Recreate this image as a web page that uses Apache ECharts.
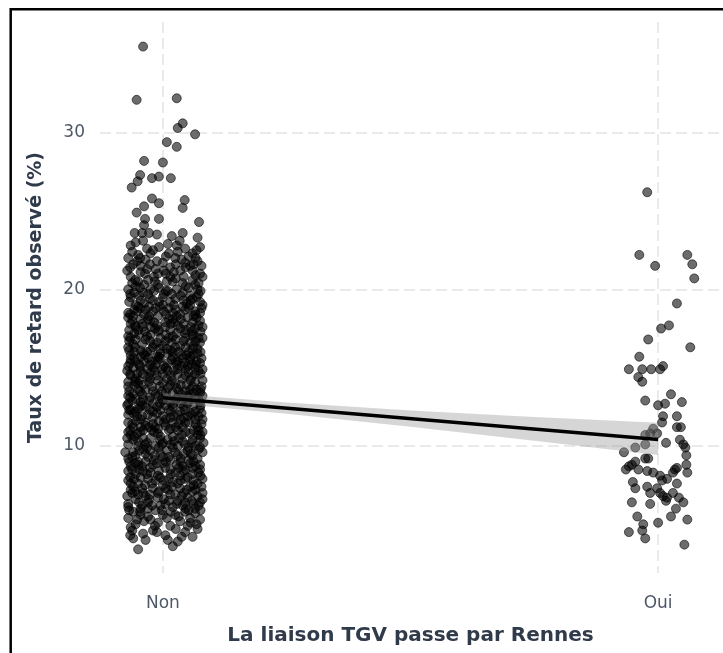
<!DOCTYPE html>
<html>
<head>
<meta charset="utf-8">
<script src="https://cdn.jsdelivr.net/npm/echarts@6/dist/echarts.min.js"></script>
<style>html,body{margin:0;padding:0;background:#fff;}#c{width:723px;height:653px;}</style>
</head>
<body>
<div id="c"></div>
<script>
const categories = ['Non', 'Oui'];
const categoryPos = [0, 1];
const yTicks = [10, 20, 30];

// [jitter offset, delay %] for "Non"
const nonPoints = [
 [-0.040,35.5],[-0.053,32.1],[0.028,32.2],[0.040,30.6],[0.030,30.3],[0.065,29.9],[0.008,29.4],[0.028,29.1],
 [-0.038,28.2],[0.000,28.1],[-0.046,27.3],[-0.051,26.9],[-0.022,27.1],[-0.008,27.2],[0.016,27.1],[-0.063,26.5],
 [-0.022,25.8],[-0.038,25.3],[0.044,25.7],[0.040,25.2],[-0.008,25.5],[-0.053,24.9],[-0.036,24.5],[-0.008,24.5],
 [0.073,24.3],[-0.038,24.1],[-0.057,23.6],[-0.042,23.6],[-0.028,23.6],[-0.012,23.5],[0.018,23.4],[0.040,23.6],[0.034,23.1],
 [-0.05,3.4],[-0.035,4.0],[0.02,3.6],[0.03,3.9],[0.06,4.2],[0.005,4.3],[-0.04,4.4],[-0.065,4.8],[-0.02,4.6],[0.045,4.5],
 [0.07,4.7],[-0.055,5.0],[0.015,4.9],[-0.01,5.1],[0.035,5.2],[0.075,5.3],[-0.07,5.4],[-0.03,5.5],[0.055,5.4],[0.0,5.6],
 [-0.06,5.8],[-0.045,6.0],[-0.015,5.9],[0.02,6.1],[0.045,5.8],[0.065,6.0],[-0.07,6.3],[-0.03,6.4],[0.005,6.3],[0.03,6.5],
 [0.075,6.4],[-0.055,6.6],[-0.01,6.7],[0.05,6.7],[0.015,6.9],[-0.04,7.0],[0.06,7.1],[-0.065,7.2],[0.08,7.0],[-0.02,7.3],
 [0.035,7.3],[0.0,7.5],[-0.05,7.6],[0.02,7.7],[0.07,7.6],[-0.07,7.8],[-0.03,7.9],[0.045,7.9],[-0.01,8.1],[0.06,8.2],
 [-0.055,8.2],[0.025,8.3],[-0.04,8.4],[0.075,8.5],[0.005,8.6],[-0.065,8.7],[0.04,8.7],[-0.02,8.8],
 [0.055,8.9],[-0.05,9.0],[0.015,9.1],[-0.07,9.2],[0.07,9.2],[-0.03,9.3],[0.03,9.4],[-0.005,9.5],[0.08,9.6],[-0.06,9.6],
 [0.05,9.7],[-0.04,9.8],[0.02,9.9],[-0.015,10.0],[0.065,10.0],[-0.07,10.1],[0.0,10.2],
 [0.04,10.3],[-0.05,10.3],[-0.025,10.5],[0.075,10.5],[0.02,10.6],[-0.065,10.7],[0.055,10.8],[-0.01,10.8],[-0.04,11.0],
 [0.03,11.0],[0.07,11.2],[-0.06,11.2],[0.005,11.3],[-0.02,11.4],[0.045,11.5],[-0.07,11.5],
 [0.08,11.7],[-0.045,11.7],[0.015,11.8],[-0.03,12.0],[0.06,12.0],[-0.06,12.1],[0.035,12.2],[-0.005,12.3],[0.075,12.4],
 [-0.05,12.4],[0.02,12.5],[-0.07,12.7],[-0.02,12.7],[0.05,12.7],[0.0,12.9],[0.065,13.0],[-0.04,13.0],
 [0.03,13.1],[-0.06,13.3],[-0.015,13.3],[0.075,13.4],[0.045,13.5],[-0.035,13.6],[0.01,13.7],[-0.07,13.8],[0.06,13.8],
 [-0.05,14.0],[0.025,14.0],[-0.01,14.2],[0.08,14.2],[0.04,14.3],[-0.03,14.4],[-0.065,14.5],
 [0.0,14.6],[0.065,14.6],[-0.045,14.8],[0.03,14.9],[-0.02,15.0],[0.05,15.1],[-0.07,15.1],[0.075,15.3],[0.01,15.3],
 [-0.055,15.4],[-0.03,15.6],[0.04,15.6],[0.06,15.8],[-0.065,15.8],[-0.005,15.9],[0.02,16.0],
 [-0.045,16.1],[0.07,16.2],[-0.02,16.3],[0.035,16.4],[-0.06,16.5],[0.055,16.6],[0.005,16.7],[-0.035,16.8],[0.08,16.9],
 [-0.07,17.0],[0.02,17.0],[0.045,17.2],[-0.01,17.3],[-0.05,17.4],[0.065,17.5],
 [-0.025,17.6],[0.03,17.7],[-0.065,17.8],[0.005,17.9],[0.075,18.0],[-0.045,18.1],[0.05,18.2],[-0.01,18.3],[0.02,18.5],
 [-0.07,18.5],[0.065,18.6],[-0.035,18.7],[0.04,18.9],[-0.055,19.0],[0.0,19.0],
 [0.075,19.2],[-0.02,19.3],[0.025,19.4],[-0.065,19.5],[0.055,19.6],[-0.04,19.8],[0.01,19.9],[0.07,20.0],[-0.055,20.2],
 [-0.01,20.3],[0.04,20.4],[-0.03,20.6],[0.06,20.6],
 [-0.065,20.8],[0.015,20.8],[0.075,21.0],[-0.045,21.1],[0.035,21.2],[-0.015,21.3],[0.055,21.5],[-0.06,21.6],[0.0,21.7],
 [0.07,21.8],[-0.035,21.9],[0.025,22.0],
 [-0.05,22.2],[0.06,22.3],[-0.02,22.5],[0.045,22.6],[-0.065,22.8],[0.01,22.9],[0.075,22.7],[-0.04,23.1],
 [-0.06,4.1],[0.01,4.0],[0.05,4.9],[-0.025,5.3],[0.025,5.6],[-0.045,5.6],[0.065,5.7],[-0.07,6.1],[-0.005,6.2],[0.04,6.2],
 [0.08,6.6],[-0.035,6.8],[0.025,6.9],[-0.06,7.4],[0.055,7.4],[0.01,7.2],[-0.015,7.8],[0.08,7.9],[-0.045,8.0],[0.035,8.1],
 [-0.07,8.4],[0.015,8.5],[0.06,8.6],[-0.035,9.0],[0.035,9.0],[-0.055,9.4],[0.0,9.3],[0.06,9.4],[-0.025,9.7],[0.075,9.9],
 [-0.05,10.0],[0.03,10.0],[0.01,10.4],[-0.04,10.5],[0.06,10.4],[-0.07,10.9],[0.08,10.9],[-0.01,11.1],[0.04,11.2],[-0.035,11.3],
 [0.02,11.5],[-0.055,11.6],[0.065,11.7],[0.0,11.9],[-0.02,12.2],[0.045,12.3],[-0.065,12.3],[0.075,12.8],[0.015,12.8],[-0.045,12.8],
 [-0.01,13.2],[0.05,13.2],[-0.07,13.2],[0.02,13.4],[-0.04,13.9],[0.065,14.1],[0.0,14.0],[-0.055,14.3],[0.03,14.6],[-0.025,14.7],
 [0.08,14.9],[-0.06,15.0],[0.045,15.3],[-0.01,15.5],[0.02,15.7],[-0.04,15.9],[0.07,15.9],[-0.07,16.3],[0.0,16.4],[0.045,16.9],
 [-0.025,17.1],[0.06,17.0],[-0.055,17.6],[0.015,17.4],[0.08,17.6],[-0.03,18.1],[0.035,18.4],[-0.06,18.3],[0.075,18.5],[-0.015,18.8],
 [0.055,19.0],[-0.045,19.3],[0.0,19.5],[0.04,19.8],[-0.07,20.0],[0.065,20.3],[-0.025,20.0],[0.02,20.5],[-0.05,20.5],[0.08,20.8],
 [-0.01,21.0],[0.045,21.7],[-0.045,21.5],[0.015,21.4],[-0.07,22.0],[0.06,21.2],[-0.025,22.3],[0.03,22.4],[-0.055,23.0],[0.07,23.3],
 [-0.03,6.0],[0.045,6.4],[-0.05,6.9],[0.07,6.8],[-0.01,7.0],[0.03,7.6],[-0.065,7.6],[0.05,8.0],[-0.025,8.3],[0.0,8.9],
 [-0.05,8.8],[0.075,8.8],[0.025,9.6],[-0.035,9.5],[0.045,10.1],[-0.06,10.4],[-0.005,10.6],[0.07,10.7],[0.015,11.1],[-0.045,11.2],
 [0.05,11.9],[-0.02,11.8],[-0.07,12.0],[0.03,12.0],[0.065,12.2],[-0.035,12.5],[0.005,12.6],[-0.055,13.0],[0.04,12.9],[0.08,13.2],
 [-0.02,13.5],[0.055,13.6],[-0.05,13.6],[0.015,13.9],[-0.07,14.1],[0.045,14.5],[-0.04,14.6],[0.01,14.8],[0.065,15.0],[-0.015,15.2],
 [-0.065,15.5],[0.03,15.4],[0.055,15.5],[-0.045,15.7],[0.01,15.9],[-0.025,16.1],[0.06,16.2],[0.025,16.3],[-0.055,16.8],[0.075,16.6],
 [-0.005,16.9],[0.035,17.5],[-0.04,17.6],[0.005,17.6],[0.06,17.9],[-0.07,18.2],[0.02,18.1],[-0.02,18.6],[0.045,18.7],[-0.05,18.9],
 [0.08,19.0],[0.015,19.2],[-0.03,19.7],[0.06,19.4],
 [-0.062,4.6],[0.038,4.2],[-0.012,4.5],[0.068,5.0],[-0.038,5.2],[0.008,5.4],[0.052,5.9],[-0.068,5.9],[-0.022,6.2],[0.028,6.3],
 [0.072,6.2],[-0.048,6.4],[0.002,6.6],[0.058,6.5],[-0.028,6.6],[-0.072,6.8],[0.038,6.8],[-0.008,7.1],[0.048,7.2],[-0.042,7.3],
 [0.078,7.4],[0.018,7.4],[-0.058,7.9],[0.012,7.9],[0.062,7.8],[-0.032,8.2],[0.042,8.4],[-0.062,8.5],[-0.008,8.4],[0.072,8.3],
 [0.028,8.8],[-0.042,8.7],[0.052,9.1],[-0.018,9.1],[-0.068,9.0],[0.008,9.7],[0.042,9.5],[-0.048,9.7],[0.072,9.8],[-0.008,9.9],
 [0.058,10.2],[-0.032,10.2],[0.022,10.3],[-0.072,10.5],[0.082,10.2],[0.038,10.7],[-0.018,10.9],[-0.052,10.8],[0.062,11.0],[0.012,11.0],
 [-0.028,11.2],[0.078,11.4],[-0.062,11.4],[0.032,11.4],[-0.008,11.6],[0.052,11.5],[-0.042,11.9],[0.022,11.9],[0.072,11.9],[-0.068,12.3],
 [-0.012,12.5],[0.042,12.5],[0.062,12.6],[-0.028,12.9],[0.022,12.7],[-0.062,12.9],[0.008,13.1],[0.072,13.0],[-0.042,13.3],[0.038,13.3],
 [-0.002,13.5],[0.062,13.4],[-0.068,13.5],[0.028,13.7],[-0.022,13.8],[0.078,13.8],[0.048,13.9],[-0.048,14.2],[0.008,14.3],[-0.012,14.5],
 [0.058,14.4],[-0.072,14.8],[0.022,14.8],[-0.032,14.9],[0.072,14.8],[0.038,15.1],[-0.048,15.2],[0.002,15.1],[0.058,15.2],[-0.022,15.4],
 [0.078,15.6],[-0.058,15.6],[0.018,15.5],[0.048,15.8],[-0.012,15.7],[-0.032,16.0],[0.032,16.0],[-0.068,16.1],[0.062,16.4],[0.008,16.2],
 [-0.042,16.5],[0.018,16.6],[-0.012,16.6],[0.042,16.7],[-0.068,16.7],[0.072,16.9],[-0.032,17.0],[0.028,17.2],[0.058,17.3],[-0.058,17.2],
 [-0.008,17.4],[0.072,17.7],[-0.042,17.8],[0.042,17.8],[-0.018,17.9],[0.012,18.1],[-0.062,18.0],[0.062,18.3],[-0.038,18.4],[0.028,18.3],
 [0.002,18.6],[-0.052,18.6],[0.052,18.8],[-0.028,18.9],[0.078,18.8],[0.022,19.0],[-0.068,19.2],[-0.008,19.2],[0.042,19.3],[0.068,19.5],
 [-0.048,19.6],[0.002,19.7],[-0.018,19.9],[0.028,20.0],[0.052,20.1],[-0.062,20.4],[-0.038,20.3],[0.008,20.5],[0.072,20.4],[-0.018,20.8],
 [0.042,20.8],[-0.072,21.2],[0.022,21.1],[-0.032,21.3],[0.062,21.6],[0.002,21.2],[-0.052,21.8],[0.078,21.5],[-0.012,21.8],[0.038,21.9],
 [-0.062,22.4],[0.012,22.3],[0.052,22.1],[-0.032,22.6],[0.068,22.5],[-0.008,22.7],[0.028,22.8],
 [-0.052,5.3],[0.032,5.5],[-0.002,5.9],[0.062,6.3],[-0.042,6.2],[0.012,6.5],[-0.062,7.0],[0.042,7.0],[-0.022,7.6],[0.062,7.5],
 [0.002,7.8],[-0.048,8.5],[0.032,8.6],[-0.012,8.9],[0.062,9.0],[-0.062,9.3],[0.012,9.3],[-0.032,9.9],[0.052,9.9],[-0.002,10.1],
 [-0.058,10.6],[0.032,10.5],[0.072,11.0],[-0.022,11.0],[0.002,11.5],[-0.052,11.9],[0.042,11.8],[-0.012,12.1],[0.078,12.1],[0.012,12.3],
 [-0.042,12.6],[0.052,12.9],[-0.072,12.6],[-0.002,13.0],[0.032,13.5],[-0.058,13.9],[0.068,13.6],[-0.028,14.1],[0.018,14.2],[0.052,14.7],
 [-0.052,14.6],[-0.002,14.9],[0.028,15.2],[-0.038,15.4],[0.068,15.4],[-0.008,15.7],[0.038,15.8],[-0.058,16.0],[0.052,16.0],[-0.018,16.5],
 [0.012,16.9],[-0.048,17.1],[0.062,17.1],[-0.012,17.7],[0.022,17.9],[-0.068,17.4],[0.068,18.2],[-0.028,18.3],[0.012,18.8],[-0.058,18.7],
 [0.048,19.1],[-0.038,19.1],[0.018,19.7],[0.072,19.7],[-0.058,19.8],[-0.008,20.1],
 [-0.066,4.3],[0.026,4.7],[-0.016,4.9],[0.056,5.1],[-0.046,5.8],[0.016,5.8],[0.076,5.9],[-0.026,6.9],[0.046,6.0],[-0.056,7.1],
 [0.006,7.3],[0.066,7.2],[-0.036,7.5],[0.036,7.8],[-0.006,8.0],[0.076,8.1],[-0.066,8.0],[0.016,8.2],[-0.026,8.6],[0.046,8.5],
 [-0.056,8.9],[0.006,9.0],[0.066,8.7],[-0.016,9.4],[0.036,9.2],[-0.076,9.6],[0.056,9.5],[-0.036,10.1],[0.016,10.1],[0.076,10.7],
 [-0.006,10.4],[-0.046,10.9],[0.046,10.9],[-0.016,11.2],[0.026,11.2],[-0.066,11.0],[0.066,11.4],[-0.036,11.5],[0.006,11.7],[-0.056,12.2],
 [0.036,11.7],[0.056,12.1],[-0.026,12.3],[0.016,12.2],[0.076,12.6],[-0.006,12.7],[-0.046,12.5],[0.036,12.7],[-0.066,13.1],[0.026,13.0],
 [-0.026,13.1],[0.056,13.3],[0.006,13.4],[-0.046,13.5],[0.076,13.6],[-0.006,13.8],[0.036,13.9],[-0.056,14.1],[0.056,14.2],[-0.026,14.3],
 [0.016,14.5],[-0.066,14.6],[0.076,14.6],[-0.016,14.8],[0.046,14.9],[-0.046,15.1],[0.006,15.0],[0.066,15.2],[-0.026,15.2],[0.026,15.4],
 [-0.066,15.3],[-0.006,15.6],[0.056,15.7],[-0.036,15.8],[0.016,16.1],[0.076,16.0],[-0.056,16.3],[0.046,16.3],[-0.006,16.2],[-0.026,16.7],
 [0.026,16.8],[0.066,16.7],[-0.066,16.9],[0.006,17.1],[-0.036,17.3],[0.046,17.4],[-0.016,17.5],[0.076,17.3],[-0.056,17.7],[0.016,17.8],
 [0.056,17.6],[-0.026,18.0],[0.036,18.1],[-0.066,18.4],[0.006,18.4],[0.066,18.4],[-0.046,18.8],[0.026,18.7],[-0.006,18.9],[0.056,19.3],
 [-0.026,19.4],[-0.066,19.7],[0.036,19.6],[0.006,19.9],[0.076,19.9],[-0.046,20.1],[0.046,20.2],[-0.016,20.5],[0.026,20.7],[-0.056,20.6],
 [0.066,20.9],[-0.036,21.0],[0.006,21.0],[0.046,21.4],[-0.026,21.6],[-0.066,21.4],[0.026,21.6],[0.066,22.0],[-0.046,22.0],[0.006,22.1]
];

// [jitter offset, delay %] for "Oui"
const ouiPoints = [
 [-0.022,26.2],[-0.038,22.2],[0.059,22.2],[0.069,21.6],[-0.006,21.5],[0.073,20.7],[0.038,19.1],[0.006,17.5],[0.022,17.7],
 [-0.020,16.8],[0.065,16.3],[-0.038,15.7],[-0.059,14.9],[-0.032,14.9],[-0.014,14.9],[0.004,14.9],[0.010,15.1],[-0.040,14.4],
 [-0.032,14.1],[0.026,13.3],[-0.026,12.9],[0.000,12.6],[0.014,12.7],[0.048,12.8],[0.010,11.9],[0.008,11.5],[0.038,11.9],
 [0.038,11.2],[0.046,11.2],[-0.010,11.1],[-0.016,10.8],[-0.026,10.7],[-0.002,10.8],[0.044,10.4],[0.016,10.2],[-0.046,9.9],
 [-0.026,10.1],[0.051,10.1],[0.055,9.9],[0.057,9.4],[-0.069,9.6],[-0.026,9.2],[-0.020,9.2],[-0.046,9.0],[-0.053,8.8],
 [-0.059,8.7],[-0.065,8.5],[-0.040,8.5],[-0.022,8.4],[-0.010,8.3],[0.004,8.1],[0.057,8.8],[0.038,8.6],[0.034,8.5],
 [0.030,8.3],[0.059,8.3],[0.018,7.9],[0.008,7.8],[-0.051,7.7],[-0.046,7.3],[-0.022,7.4],[-0.016,7.0],[-0.002,7.3],
 [0.004,7.0],[0.010,6.8],[0.016,6.5],[0.018,6.7],[0.038,7.6],[0.030,7.0],[0.042,6.7],[0.051,6.4],[-0.053,6.4],
 [-0.016,6.3],[0.036,6.0],[0.026,5.5],[-0.042,5.5],[0.059,5.3],[-0.030,5.0],[-0.032,4.6],[0.000,5.1],[-0.059,4.5],
 [-0.026,4.1],[0.053,3.7]
];

// linear fit and its confidence band
const fitX = [0, 1];
const fitY = [13.08, 10.42];
const bandX = [0, 0.25, 0.5, 0.75, 1];
const bandLo = [12.78, 12.05, 11.23, 10.33, 9.42];
const bandHi = [13.38, 12.78, 12.27, 11.85, 11.48];

const scatterData = [];
nonPoints.forEach(p => scatterData.push([categoryPos[0] + p[0], p[1]]));
ouiPoints.forEach(p => scatterData.push([categoryPos[1] + p[0], p[1]]));

const grid = '#e3e3e3';
const chart = echarts.init(document.getElementById('c'), null, {renderer: 'canvas'});
chart.setOption({
  animation: false,
  backgroundColor: '#fff',
  grid: {left: 100, right: 2, top: 22, bottom: 80, containLabel: false},
  xAxis: {
    type: 'value', min: -0.127, max: 1.127,
    name: 'La liaison TGV passe par Rennes', nameLocation: 'middle', nameGap: 53,
    nameTextStyle: {fontFamily: 'DejaVu Sans', fontWeight: 'bold', fontSize: 20, color: '#2f3a4a'},
    axisLine: {show: false}, axisTick: {show: false, customValues: categoryPos},
    axisLabel: {customValues: categoryPos, formatter: v => categories[Math.round(v)], margin: 22,
      fontFamily: 'DejaVu Sans', fontSize: 17, color: '#4d5868'},
    splitLine: {show: true, lineStyle: {color: grid, width: 1.5, type: [11, 5]}}
  },
  yAxis: {
    type: 'value', min: 1.89, max: 37.07,
    name: 'Taux de retard observé (%)', nameLocation: 'middle', nameGap: 54,
    nameTextStyle: {fontFamily: 'DejaVu Sans', fontWeight: 'bold', fontSize: 19, color: '#2f3a4a'},
    axisLine: {show: false}, axisTick: {show: false, customValues: yTicks},
    axisLabel: {customValues: yTicks, margin: 15, fontFamily: 'DejaVu Sans', fontSize: 17, color: '#4d5868'},
    splitLine: {show: true, lineStyle: {color: grid, width: 1.5, type: [11, 5]}}
  },
  series: [
    {
      type: 'scatter', data: scatterData, symbolSize: 9, z: 2,
      itemStyle: {color: 'rgba(0,0,0,0.72)', borderColor: 'rgba(0,0,0,0.72)', borderWidth: 1}
    },
    {
      type: 'custom', z: 3,
      data: bandX.map((x, i) => [x, bandLo[i], bandHi[i]]),
      encode: {x: 0, y: [1, 2]},
      renderItem: function (params, api) {
        if (params.dataIndex !== 0) return null;
        const pts = [];
        for (let i = 0; i < bandX.length; i++) pts.push(api.coord([bandX[i], bandHi[i]]));
        for (let i = bandX.length - 1; i >= 0; i--) pts.push(api.coord([bandX[i], bandLo[i]]));
        return {type: 'polygon', shape: {points: pts}, style: {fill: 'rgba(153,153,153,0.4)'}};
      }
    },
    {
      type: 'line', z: 4, data: fitX.map((x, i) => [x, fitY[i]]), symbol: 'none',
      lineStyle: {color: '#000', width: 3.5}
    }
  ],
  graphic: [{
    type: 'rect', silent: true, z: 100,
    shape: {x: 10.7, y: 9.3, width: 900, height: 900},
    style: {fill: 'none', stroke: '#000', lineWidth: 2.5}
  }]
});
</script>
</body>
</html>
